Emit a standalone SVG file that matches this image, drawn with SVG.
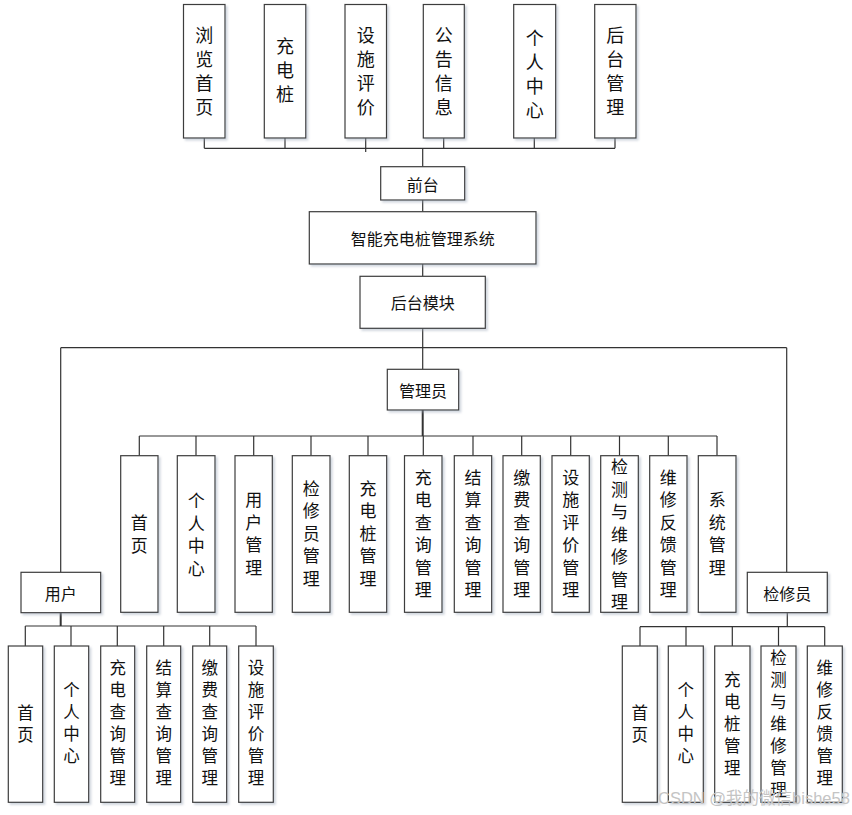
<svg xmlns="http://www.w3.org/2000/svg" width="852" height="815" viewBox="0 0 852 815">
<defs>
<filter id="sh" x="-20%" y="-20%" width="150%" height="150%">
<feDropShadow dx="2" dy="2" stdDeviation="1" flood-color="#9aa6b8" flood-opacity="0.45"/>
</filter>
</defs>
<style>
.box rect{fill:#ffffff;stroke:#3c3c3c;stroke-width:1.2;filter:url(#sh)}
text{font-family:"Noto Sans CJK SC","Liberation Sans",sans-serif;fill:#111;text-anchor:middle;dominant-baseline:central}
.lbl{font-size:16px}
.v{writing-mode:vertical-rl;text-orientation:upright}
.top{font-size:18px;letter-spacing:6px}
.mid{font-size:17px;letter-spacing:5.5px}
.bot{font-size:16.5px;letter-spacing:5.5px}
#connectors line{stroke:#333;stroke-width:1.2}
#connectors .thick{stroke-width:2}
.wm{font-family:"Liberation Sans","Noto Sans CJK SC",sans-serif;font-size:16.5px;fill:#c4c4c4;text-anchor:start;dominant-baseline:alphabetic}
</style>
<rect width="852" height="815" fill="#ffffff"/>

<g id="connectors">
<line x1="204.3" y1="148.3" x2="615" y2="148.3"/>
<line x1="204.3" y1="138" x2="204.3" y2="148.3"/>
<line x1="285" y1="138" x2="285" y2="148.3"/>
<line x1="365.7" y1="138" x2="365.7" y2="152"/>
<line x1="443.7" y1="138" x2="443.7" y2="148.3"/>
<line x1="534.3" y1="138" x2="534.3" y2="148.3"/>
<line x1="615" y1="138" x2="615" y2="148.3"/>
<line x1="422.7" y1="148.3" x2="422.7" y2="166.7"/>
<line x1="422.7" y1="200" x2="422.7" y2="211.7"/>
<line x1="422.7" y1="264" x2="422.7" y2="276.3"/>
<line x1="422.7" y1="328.3" x2="422.7" y2="369.3"/>
<line x1="60.7" y1="347.7" x2="786.7" y2="347.7"/>
<line x1="60.7" y1="347.7" x2="60.7" y2="572.3"/>
<line x1="786.7" y1="347.7" x2="786.7" y2="572.3"/>
<line class="thick" x1="422.7" y1="410" x2="422.7" y2="436"/>
<line x1="139.3" y1="436" x2="717" y2="436"/>
<line x1="139.3" y1="436" x2="139.3" y2="455.7"/>
<line x1="196" y1="436" x2="196" y2="455.7"/>
<line x1="253.7" y1="436" x2="253.7" y2="455.7"/>
<line x1="311" y1="436" x2="311" y2="455.7"/>
<line x1="368" y1="436" x2="368" y2="455.7"/>
<line x1="423.3" y1="436" x2="423.3" y2="455.7"/>
<line x1="473" y1="436" x2="473" y2="455.7"/>
<line x1="521.7" y1="436" x2="521.7" y2="455.7"/>
<line x1="570.7" y1="436" x2="570.7" y2="455.7"/>
<line x1="619.5" y1="436" x2="619.5" y2="455.7"/>
<line x1="668.3" y1="436" x2="668.3" y2="455.7"/>
<line x1="717" y1="436" x2="717" y2="455.7"/>
<line class="thick" x1="60.7" y1="612.7" x2="60.7" y2="626"/>
<line x1="25.3" y1="626" x2="256" y2="626"/>
<line x1="25.3" y1="626" x2="25.3" y2="646"/>
<line x1="71" y1="626" x2="71" y2="646"/>
<line x1="117.3" y1="626" x2="117.3" y2="646"/>
<line x1="163.7" y1="626" x2="163.7" y2="646"/>
<line x1="209.7" y1="626" x2="209.7" y2="646"/>
<line x1="256" y1="626" x2="256" y2="646"/>
<line x1="787.3" y1="612.7" x2="787.3" y2="626.7"/>
<line x1="640" y1="626.7" x2="824.7" y2="626.7"/>
<line x1="640" y1="626.7" x2="640" y2="646"/>
<line x1="686" y1="626.7" x2="686" y2="646"/>
<line x1="732.3" y1="626.7" x2="732.3" y2="646"/>
<line x1="778.5" y1="626.7" x2="778.5" y2="646"/>
<line x1="824.7" y1="626.7" x2="824.7" y2="646"/>
</g>

<g id="n-browse" class="box"><rect x="183.5" y="4.5" width="41.5" height="133.5"/><text class="v top" x="204.3" y="74">浏览首页</text></g>
<g id="n-pile" class="box"><rect x="264.3" y="4.5" width="41.5" height="133.5"/><text class="v top" x="285" y="73">充电桩</text></g>
<g id="n-eval" class="box"><rect x="345" y="4.5" width="41.5" height="133.5"/><text class="v top" x="365.7" y="74">设施评价</text></g>
<g id="n-notice" class="box"><rect x="423.3" y="4.5" width="41" height="133.5"/><text class="v top" x="443.8" y="74">公告信息</text></g>
<g id="n-personal" class="box"><rect x="513.7" y="4.5" width="42" height="133.5"/><text class="v top" x="534.7" y="77">个人中心</text></g>
<g id="n-backend" class="box"><rect x="594.7" y="4.5" width="41.3" height="133.5"/><text class="v top" x="615.3" y="74">后台管理</text></g>

<g id="n-front" class="box"><rect x="380.7" y="166.7" width="84" height="33.3"/><text class="lbl" x="422.7" y="183.5">前台</text></g>
<g id="n-system" class="box"><rect x="309.3" y="211.7" width="226.7" height="52.3"/><text class="lbl" x="422.7" y="238">智能充电桩管理系统</text></g>
<g id="n-backmod" class="box"><rect x="360" y="276.3" width="125.3" height="52"/><text class="lbl" x="422.7" y="302.3">后台模块</text></g>
<g id="n-admin" class="box"><rect x="387.3" y="369.3" width="71.4" height="40.7"/><text class="lbl" x="423" y="389.7">管理员</text></g>
<g id="n-user" class="box"><rect x="21" y="572.3" width="79.7" height="40.4"/><text class="lbl" x="60.8" y="592.5">用户</text></g>
<g id="n-repairer" class="box"><rect x="747.3" y="572.3" width="80" height="40.4"/><text class="lbl" x="787.3" y="592.5">检修员</text></g>

<g id="a-home" class="box"><rect x="120.7" y="455.7" width="37.3" height="156.6"/><text class="v mid" x="139.3" y="537">首页</text></g>
<g id="a-personal" class="box"><rect x="177.3" y="455.7" width="37.7" height="156.6"/><text class="v mid" x="196.2" y="537.5">个人中心</text></g>
<g id="a-users" class="box"><rect x="235" y="455.7" width="37.3" height="156.6"/><text class="v mid" x="253.7" y="536.5">用户管理</text></g>
<g id="a-repairers" class="box"><rect x="292.3" y="455.7" width="37.7" height="156.6"/><text class="v mid" x="311.2" y="535.8">检修员管理</text></g>
<g id="a-piles" class="box"><rect x="349.3" y="455.7" width="37.4" height="156.6"/><text class="v mid" x="368" y="535.8">充电桩管理</text></g>
<g id="a-charge" class="box"><rect x="404.5" y="455.7" width="37.5" height="156.6"/><text class="v mid" x="423.3" y="536.5">充电查询管理</text></g>
<g id="a-settle" class="box"><rect x="454.3" y="455.7" width="37.4" height="156.6"/><text class="v mid" x="473" y="536.5">结算查询管理</text></g>
<g id="a-pay" class="box"><rect x="503" y="455.7" width="37.3" height="156.6"/><text class="v mid" x="521.7" y="536.5">缴费查询管理</text></g>
<g id="a-eval" class="box"><rect x="552" y="455.7" width="37.3" height="156.6"/><text class="v mid" x="570.7" y="536.5">设施评价管理</text></g>
<g id="a-maint" class="box"><rect x="600.7" y="455.7" width="37.6" height="156.6"/><text class="v mid" x="619.5" y="536.8">检测与维修管理</text></g>
<g id="a-feedback" class="box"><rect x="649.7" y="455.7" width="37.3" height="156.6"/><text class="v mid" x="668.3" y="536.5">维修反馈管理</text></g>
<g id="a-system" class="box"><rect x="698.3" y="455.7" width="37.7" height="156.6"/><text class="v mid" x="717.2" y="536.5">系统管理</text></g>

<g id="u-home" class="box"><rect x="8.3" y="646" width="34.4" height="156.3"/><text class="v bot" x="25.5" y="726.3">首页</text></g>
<g id="u-personal" class="box"><rect x="54.3" y="646" width="34.4" height="156.3"/><text class="v bot" x="71.5" y="725.3">个人中心</text></g>
<g id="u-charge" class="box"><rect x="100.7" y="646" width="34" height="156.3"/><text class="v bot" x="117.7" y="725.8">充电查询管理</text></g>
<g id="u-settle" class="box"><rect x="146.7" y="646" width="34" height="156.3"/><text class="v bot" x="163.7" y="725.8">结算查询管理</text></g>
<g id="u-pay" class="box"><rect x="192.7" y="646" width="34" height="156.3"/><text class="v bot" x="209.7" y="725.8">缴费查询管理</text></g>
<g id="u-eval" class="box"><rect x="238.7" y="646" width="34.6" height="156.3"/><text class="v bot" x="256" y="725.8">设施评价管理</text></g>

<g id="r-home" class="box"><rect x="622.3" y="646" width="35" height="156.3"/><text class="v bot" x="639.8" y="726.3">首页</text></g>
<g id="r-personal" class="box"><rect x="668.3" y="646" width="35" height="156.3"/><text class="v bot" x="685.8" y="725.3">个人中心</text></g>
<g id="r-piles" class="box"><rect x="714.7" y="646" width="35.3" height="156.3"/><text class="v bot" x="732.3" y="726.8">充电桩管理</text></g>
<g id="r-maint" class="box"><rect x="761" y="646" width="35" height="156.3"/><text class="v bot" x="778.5" y="726.8">检测与维修管理</text></g>
<g id="r-feedback" class="box"><rect x="807.3" y="646" width="35" height="156.3"/><text class="v bot" x="824.8" y="725.8">维修反馈管理</text></g>

<text class="wm" x="658" y="804">CSDN @我的微信bishe58</text>
</svg>
